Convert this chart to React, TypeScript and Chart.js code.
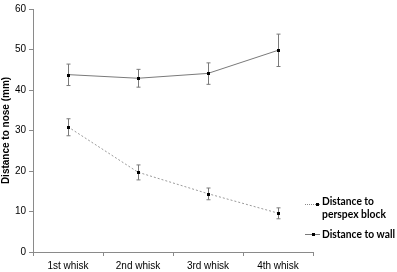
import React, { useEffect, useRef } from "react";
import { Chart, registerables } from "chart.js";

Chart.register(...registerables);

const categories = ["1st whisk", "2nd whisk", "3rd whisk", "4th whisk"];
const perspexMean = [30.9, 19.7, 14.4, 9.6];
const perspexUpper = [32.9, 21.5, 15.8, 10.9];
const perspexLower = [28.7, 17.8, 12.9, 8.2];
const wallMean = [43.8, 42.9, 44.1, 49.8];
const wallUpper = [46.4, 45.1, 46.7, 53.8];
const wallLower = [41.1, 40.7, 41.4, 45.8];
const yTicks = [0, 10, 20, 30, 40, 50, 60];
const legendPerspex = ["Distance to", "perspex block"];
const legendWall = ["Distance to wall"];
const yTitle = "Distance to nose (mm)";

const errorBarPlugin = {
  id: "errorBars",
  afterDatasetsDraw(chart: any) {
    const ctx = chart.ctx;
    const x = chart.scales.x;
    const y = chart.scales.y;
    const sets = [
      [perspexUpper, perspexLower],
      [wallUpper, wallLower],
    ];
    ctx.save();
    ctx.strokeStyle = "#7a7a7a";
    ctx.lineWidth = 1;
    sets.forEach(([up, lo]) => {
      up.forEach((u, i) => {
        const px = Math.round(x.getPixelForValue(i)) + 0.5;
        const yu = y.getPixelForValue(u);
        const yl = y.getPixelForValue(lo[i]);
        ctx.beginPath();
        ctx.moveTo(px, yu);
        ctx.lineTo(px, yl);
        ctx.moveTo(px - 2, yu);
        ctx.lineTo(px + 2, yu);
        ctx.moveTo(px - 2, yl);
        ctx.lineTo(px + 2, yl);
        ctx.stroke();
      });
    });
    ctx.fillStyle = "#000";
    [perspexMean, wallMean].forEach((m) => {
      m.forEach((v, i) => {
        const px = Math.round(x.getPixelForValue(i));
        const py = Math.round(y.getPixelForValue(v));
        ctx.fillRect(px - 1, py - 1, 3, 3);
      });
    });
    ctx.restore();
  },
};

const legendPlugin = {
  id: "customLegend",
  afterDraw(chart: any) {
    const ctx = chart.ctx;
    const left = chart.chartArea.right - 8;
    ctx.save();
    ctx.font = "bold 11px Lato, sans-serif";
    ctx.fillStyle = "#000";
    ctx.textBaseline = "middle";
    let yy = 204;
    ctx.strokeStyle = "#8a8a8a";
    ctx.lineWidth = 1;
    ctx.setLineDash([1, 1]);
    ctx.beginPath();
    ctx.moveTo(left, yy + 0.5);
    ctx.lineTo(left + 15, yy + 0.5);
    ctx.stroke();
    ctx.setLineDash([]);
    ctx.fillRect(left + 11, yy - 1, 3, 3);
    ctx.fillText(legendPerspex[0], left + 17, yy - 3, 52);
    ctx.fillText(legendPerspex[1], left + 17, yy + 10, 64);
    yy = 234;
    ctx.strokeStyle = "#7a7a7a";
    ctx.beginPath();
    ctx.moveTo(left, yy + 0.5);
    ctx.lineTo(left + 15, yy + 0.5);
    ctx.stroke();
    ctx.fillRect(left + 7, yy - 1, 3, 3);
    ctx.fillText(legendWall[0], left + 17, yy, 73);
    ctx.restore();
  },
};

export default function App() {
  const ref = useRef<HTMLCanvasElement>(null);
  useEffect(() => {
    if (!ref.current) return;
    const chart = new Chart(ref.current, {
      type: "line",
      data: {
        labels: categories,
        datasets: [
          {
            label: "Distance to perspex block",
            data: perspexMean,
            borderColor: "#9a9a9a",
            borderWidth: 1,
            borderDash: [2, 2],
            pointRadius: 0,
            tension: 0,
          },
          {
            label: "Distance to wall",
            data: wallMean,
            borderColor: "#7a7a7a",
            borderWidth: 1,
            pointRadius: 0,
            tension: 0,
          },
        ],
      },
      options: {
        responsive: false,
        animation: false,
        layout: { padding: { left: 0, right: 84, top: 7, bottom: 0 } },
        plugins: { legend: { display: false }, tooltip: { enabled: false } },
        scales: {
          x: {
            offset: true,
            grid: {
              display: true,
              drawOnChartArea: false,
              drawTicks: true,
              tickLength: 4,
              color: "#8a8a8a",
              offset: true,
            },
            border: { color: "#8a8a8a" },
            ticks: {
              color: "#000",
              font: { family: "Arial, 'Liberation Sans'", size: 10 },
              padding: 4,
              maxRotation: 0,
            },
            afterFit: (s: any) => {
              s.height = 20;
            },
          },
          y: {
            min: 0,
            max: 60,
            afterBuildTicks: (s: any) => {
              s.ticks = yTicks.map((v) => ({ value: v }));
            },
            grid: {
              display: true,
              drawOnChartArea: false,
              drawTicks: true,
              tickLength: 4,
              color: "#8a8a8a",
            },
            border: { color: "#8a8a8a" },
            ticks: {
              color: "#000",
              font: { family: "Arial, 'Liberation Sans'", size: 10 },
              padding: 3,
            },
            title: {
              display: true,
              text: yTitle,
              color: "#000",
              font: { family: "Arial, 'Liberation Sans'", size: 10, weight: "bold" },
              padding: { top: 0, bottom: 0 },
            },
            afterFit: (s: any) => {
              s.width = 33;
            },
          },
        },
      },
      plugins: [errorBarPlugin, legendPlugin],
    });
    return () => chart.destroy();
  }, []);
  return (
    <div style={{ position: "fixed", left: 0, top: 0, width: 397, height: 272, background: "#fff" }}>
      <canvas ref={ref} width={397} height={272} style={{ display: "block" }} />
    </div>
  );
}
